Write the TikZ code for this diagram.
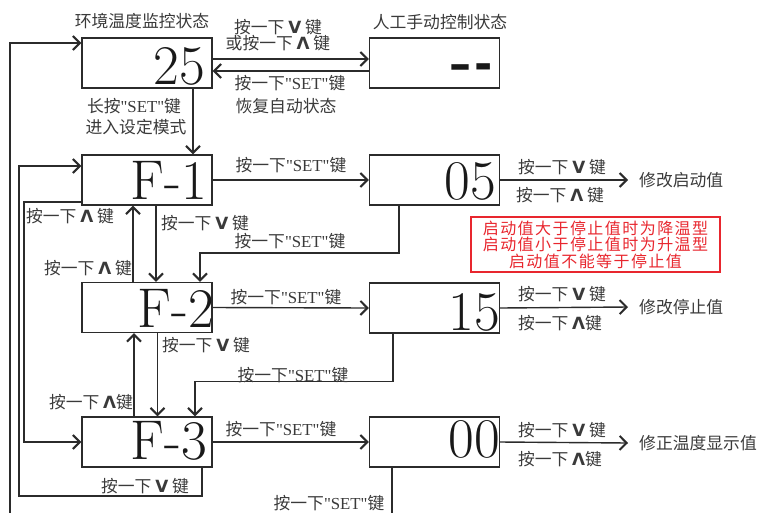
\documentclass[tikz,border=0pt]{standalone}
\usepackage{fontspec}
\usetikzlibrary{arrows.meta}
\newfontfamily\cjk{Noto Sans CJK SC}
\newfontfamily\cjkred{Noto Sans CJK SC}[LetterSpace=9]
\newfontfamily\lser{Liberation Serif}[Ligatures=TeXOff]
\newfontfamily\dvs{DejaVu Sans}
\newcommand\SETk{{\lser"SET"}}
\newcommand\kdown{{\dvs\bfseries V}}
\newcommand\kup{{\dvs\bfseries Λ}}
\definecolor{ln}{HTML}{2B2B2B}
\definecolor{tx}{HTML}{3A3A3A}
\definecolor{rd}{HTML}{E8262E}
\tikzset{
  box/.style={draw=ln, line width=1.4pt, minimum width=130pt, minimum height=50pt, inner sep=0pt},
  num/.style={inner sep=0pt, text=black!90, font=\fontsize{56}{60}\selectfont},
  lbl/.style={inner sep=0pt, text=tx, font=\cjk\fontsize{16.8}{18}\selectfont},
  conn/.style={draw=ln, line width=1.4pt},
  arr/.style={conn, -{Straight Barb[length=7pt,width=14pt,line width=2pt]}},
}
\begin{document}
\begin{tikzpicture}[x=1pt,y=-1pt]
\useasboundingbox (0,0) rectangle (757,512);
\clip (0,0) rectangle (757,512);
% boxes
\node[box] (b25) at (147,63) {};
\node[box] (man) at (434.5,63) {};
\node[box] (f1) at (147,180) {};
\node[box] (b05) at (434.5,180) {};
\node[box] (f2) at (147,307.5) {};
\node[box] (b15) at (434.5,308) {};
\node[box] (f3) at (147,442) {};
\node[box] (b00) at (434.5,442) {};
% numbers
\node[num, anchor=base east] (n25) at (205,84) {25};
\node[inner sep=0pt, anchor=base east, text=black!90, font=\dvs\bfseries\fontsize{44}{46}\selectfont] (nman) at (493,79) {–\kern3pt-};
\node[num, anchor=base east] (nf1) at (207,199) {F-1};
\node[num, anchor=base east] (n05) at (496,199) {05};
\node[num, anchor=base east] (nf2) at (214,327) {F-2};
\node[num, anchor=base east] (n15) at (500,330) {15};
\node[num, anchor=base east] (nf3) at (207,459) {F-3};
\node[num, anchor=base east] (n00) at (500,457) {00};
% result texts
\node[lbl, anchor=west, inner xsep=11pt] (r1) at (628,180) {修改启动值};
\node[lbl, anchor=west, inner xsep=11pt] (r2) at (628,307) {修改停止值};
\node[lbl, anchor=west, inner xsep=11pt] (r3) at (628,443) {修正温度显示值};
% red note
\node[draw=rd, line width=1.3pt, minimum width=249pt, minimum height=55pt, inner sep=0pt, align=center, text=rd, font=\cjkred\fontsize{16}{16.5}\selectfont] (note) at (595.5,244.5) {启动值大于停止值时为降温型\\启动值小于停止值时为升温型\\启动值不能等于停止值};
% coordinates
\coordinate (c1) at (200,253);
\coordinate (c2a) at (24,202);
\coordinate (c2) at (24,442);
\coordinate (c3) at (19,496);
\coordinate (c4) at (10,530);
\coordinate (c5) at (195,381.7);
% connectors
\draw[arr] ([yshift=4pt]b25.east) -- ([yshift=4pt]man.west);
\draw[arr] ([yshift=-8pt]man.west) -- ([yshift=-8pt]b25.east);
\draw[arr] ([xshift=46pt]b25.south) -- ([xshift=46pt]f1.north);
\draw[arr] (f1.east) -- (b05.west);
\draw[arr] (b05.east) -- (r1.west);
\draw[arr] ([xshift=9pt]f1.south) -- ([xshift=9pt]f2.north);
\draw[arr] ([xshift=-14pt]f2.north) -- ([xshift=-14pt]f1.south);
\draw[arr] ([xshift=-35.5pt]b05.south) |- (c1) -- ([xshift=53pt]f2.north);
\draw[arr] ([yshift=-22pt]f1.west) -- (c2a) -- (c2) -- (f3.west);
\draw[arr] ([xshift=55pt]f3.south) |- (c3) |- ([yshift=14pt]f1.west);
\draw[arr] ([xshift=-42.5pt]b00.south) |- (c4) |- ([yshift=20pt]b25.west);
\draw[arr] (f2.east) -- (b15.west);
\draw[arr] (b15.east) -- (r2.west);
\draw[arr] ([xshift=10.5pt]f2.south) -- ([xshift=10.5pt]f3.north);
\draw[arr] ([xshift=-13pt]f3.north) -- ([xshift=-13pt]f2.south);
\draw[arr] ([xshift=-41.5pt]b15.south) |- (c5) -- ([xshift=48pt]f3.north);
\draw[arr] (f3.east) -- (b00.west);
\draw[arr] (b00.east) -- (r3.west);
% labels
\node[lbl] (tA) at (142,21) {环境温度监控状态};
\node[lbl] (tB) at (440,22) {人工手动控制状态};
\node[lbl, align=center, font=\cjk\fontsize{16.8}{16}\selectfont] (l1) at (278,35) {按一下 \kdown{} 键\\或按一下 \kup{} 键};
\node[lbl] (l3) at (290,83) {按一下\SETk{}键};
\node[lbl] (l4) at (286,106) {恢复自动状态};
\node[lbl] (l5) at (134,106) {长按\SETk{}键};
\node[lbl] (l6) at (136,127) {进入设定模式};
\node[lbl] (l7) at (291,165) {按一下\SETk{}键};
\node[lbl] (l8) at (70,216) {按一下 \kup{} 键};
\node[lbl] (l9) at (205,223) {按一下 \kdown{} 键};
\node[lbl] (l10) at (290,241) {按一下\SETk{}键};
\node[lbl] (l11) at (88,268) {按一下 \kup{} 键};
\node[lbl] (l12) at (286,297) {按一下\SETk{}键};
\node[lbl] (l13) at (206,345) {按一下 \kdown{} 键};
\node[lbl] (l14) at (293,375) {按一下\SETk{}键};
\node[lbl] (l15) at (91,402) {按一下 \kup{}键};
\node[lbl] (l16) at (281,429) {按一下\SETk{}键};
\node[lbl] (l17) at (145,486) {按一下 \kdown{} 键};
\node[lbl] (l18) at (329,503) {按一下\SETk{}键};
\node[lbl] (m1) at (562,167) {按一下 \kdown{} 键};
\node[lbl] (m2) at (560,195) {按一下 \kup{} 键};
\node[lbl] (m3) at (562,294) {按一下 \kdown{} 键};
\node[lbl] (m4) at (560,323) {按一下 \kup{}键};
\node[lbl] (m5) at (562,430) {按一下 \kdown{} 键};
\node[lbl] (m6) at (560,459) {按一下 \kup{}键};
\end{tikzpicture}
\end{document}
